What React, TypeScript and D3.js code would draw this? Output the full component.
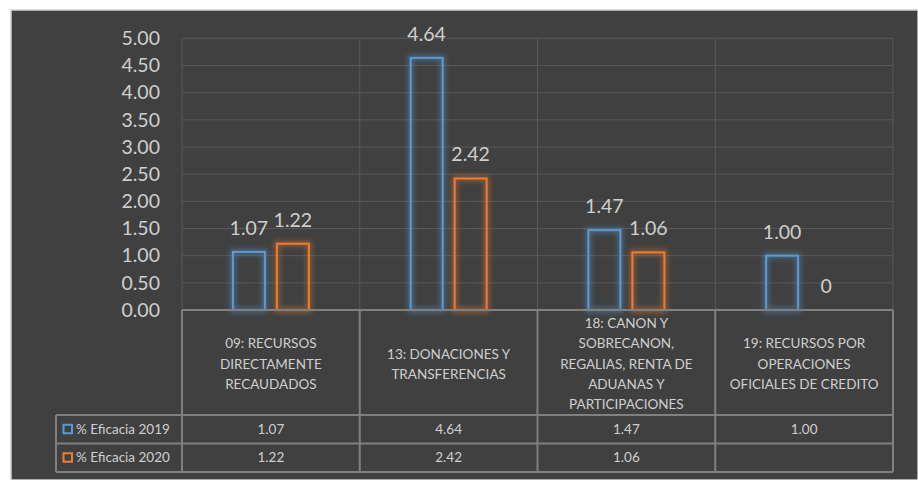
import * as d3 from 'd3';

const categories = [
  ['09: RECURSOS', 'DIRECTAMENTE', 'RECAUDADOS'],
  ['13: DONACIONES Y', 'TRANSFERENCIAS'],
  ['18: CANON Y', 'SOBRECANON,', 'REGALIAS, RENTA DE', 'ADUANAS Y', 'PARTICIPACIONES'],
  ['19: RECURSOS POR', 'OPERACIONES', 'OFICIALES DE CREDITO'],
];
const seriesNames = ['% Eficacia 2019', '% Eficacia 2020'];
const eficacia2019 = [1.07, 4.64, 1.47, 1.0];
const eficacia2020 = [1.22, 2.42, 1.06, 0];
const barLabels2019 = ['1.07', '4.64', '1.47', '1.00'];
const barLabels2020 = ['1.22', '2.42', '1.06', '0'];
const tableRow2019 = ['1.07', '4.64', '1.47', '1.00'];
const tableRow2020 = ['1.22', '2.42', '1.06', ''];
const yTicks = [0, 0.5, 1, 1.5, 2, 2.5, 3, 3.5, 4, 4.5, 5];

const W = 918;
const H = 480;
const FONT = 'Lato, "Open Sans", sans-serif';
const TEXT = '#cfcfcf';
const BG = '#404040';
const GRID = '#595959';
const TABLE = '#808080';
const COLORS = ['#5b9bd5', '#ed7d31'];

const plot = { left: 182, right: 893, top: 38.3, bottom: 310 };
const tableLeft = 56;
const headerBottom = 415;
const rowH = 28.5;

export default function App() {
  const keys = categories.map((_, i) => String(i));
  const x = d3.scaleBand<string>().domain(keys).range([plot.left, plot.right]).padding(0);
  const y = d3.scaleLinear().domain([0, 5]).range([plot.bottom, plot.top]);
  const fmt = d3.format('.2f');
  const series = [eficacia2019, eficacia2020];
  const labels = [barLabels2019, barLabels2020];
  const rows = [tableRow2019, tableRow2020];

  const bars: { k: number; s: number; v: number; label: string }[] = [];
  series.forEach((vals, s) =>
    vals.forEach((v, k) => bars.push({ k, s, v, label: labels[s][k] }))
  );

  // two bars per category, 32px wide with a 12px gap
  const x1 = (k: number) =>
    d3
      .scaleBand<number>()
      .domain([0, 1])
      .range([x(keys[k])! + x.bandwidth() / 2 - 38, x(keys[k])! + x.bandwidth() / 2 + 38])
      .paddingInner(12 / 44)
      .paddingOuter(0);

  const bw = x.bandwidth();

  return (
    <div style={{ position: 'absolute', left: 0, top: 0 }}>
      <svg width={W} height={H} style={{ display: 'block', background: '#fff' }}>
        <defs>
          <filter id="glow" x="-50%" y="-50%" width="200%" height="200%">
            <feGaussianBlur stdDeviation="2.5" />
          </filter>
        </defs>
        <rect x={11} y={10} width={W - 11} height={H - 10} fill={BG} stroke="#d0d0d0" strokeWidth={1.5} />

        {/* grid */}
        {yTicks.map((t) => (
          <line key={'g' + t} x1={plot.left} x2={plot.right} y1={y(t)} y2={y(t)} stroke={GRID} strokeWidth={1} />
        ))}
        {keys.map((k) => (
          <line key={'v' + k} x1={x(k)!} x2={x(k)!} y1={plot.top} y2={plot.bottom} stroke={GRID} strokeWidth={1} />
        ))}
        <line x1={plot.right} x2={plot.right} y1={plot.top} y2={plot.bottom} stroke={GRID} strokeWidth={1} />

        {/* y axis labels */}
        {yTicks.map((t) => (
          <text key={'y' + t} x={160} y={y(t)} dy="0.35em" textAnchor="end" fill={TEXT} fontSize={19.5} fontFamily={FONT}>
            {fmt(t)}
          </text>
        ))}

        {/* bars */}
        {bars.map((b) => {
          const sx = x1(b.k);
          const bx = sx(b.s)!;
          const w = sx.bandwidth();
          const top = y(b.v);
          return (
            <g key={'b' + b.s + '-' + b.k}>
              {b.v > 0 && (
                <>
                  <rect x={bx} y={top} width={w} height={plot.bottom - top} fill="none" stroke={COLORS[b.s]} strokeWidth={6} opacity={0.4} filter="url(#glow)" />
                  <rect x={bx} y={top} width={w} height={plot.bottom - top} fill="none" stroke={COLORS[b.s]} strokeWidth={2} />
                </>
              )}
              <text x={bx + w / 2} y={top - 17} textAnchor="middle" fill={TEXT} fontSize={19.5} fontFamily={FONT}>
                {b.label}
              </text>
            </g>
          );
        })}

        {/* data table */}
        <g stroke={TABLE} strokeWidth={2} fill="none">
          <line x1={plot.left} x2={plot.right} y1={plot.bottom} y2={plot.bottom} />
          <line x1={tableLeft} x2={plot.right} y1={headerBottom} y2={headerBottom} />
          <line x1={tableLeft} x2={plot.right} y1={headerBottom + rowH} y2={headerBottom + rowH} />
          <line x1={tableLeft} x2={plot.right} y1={headerBottom + 2 * rowH} y2={headerBottom + 2 * rowH} />
          <line x1={tableLeft} x2={tableLeft} y1={headerBottom} y2={headerBottom + 2 * rowH} />
          {keys.map((k) => (
            <line key={'t' + k} x1={x(k)!} x2={x(k)!} y1={plot.bottom} y2={headerBottom + 2 * rowH} />
          ))}
          <line x1={plot.right} x2={plot.right} y1={plot.bottom} y2={headerBottom + 2 * rowH} />
        </g>

        {categories.map((lines, i) => {
          const cx = x(keys[i])! + bw / 2;
          const mid = (plot.bottom + headerBottom) / 2 + 1.5;
          const lh = 20.3;
          const start = mid - ((lines.length - 1) * lh) / 2;
          return (
            <text key={'c' + i} textAnchor="middle" fill={TEXT} fontSize={13.5} fontFamily={FONT}>
              {lines.map((l, j) => (
                <tspan key={j} x={cx} y={start + j * lh} dy="0.35em">
                  {l}
                </tspan>
              ))}
            </text>
          );
        })}

        {rows.map((row, r) => {
          const cy = headerBottom + r * rowH + rowH / 2;
          return (
            <g key={'r' + r}>
              <rect x={63.5} y={cy - 4.5} width={8.5} height={8.5} fill="none" stroke={COLORS[r]} strokeWidth={2} />
              <text x={76} y={cy} dy="0.35em" fill={TEXT} fontSize={13.5} fontFamily={FONT}>
                {seriesNames[r]}
              </text>
              {row.map((v, k) => (
                <text key={k} x={x(keys[k])! + bw / 2} y={cy} dy="0.35em" textAnchor="middle" fill={TEXT} fontSize={13.5} fontFamily={FONT}>
                  {v}
                </text>
              ))}
            </g>
          );
        })}
      </svg>
    </div>
  );
}
